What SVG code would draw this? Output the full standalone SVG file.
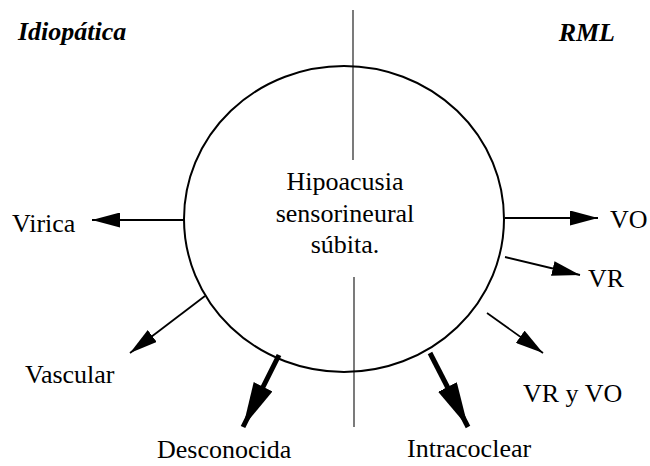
<svg xmlns="http://www.w3.org/2000/svg" width="650" height="466" viewBox="0 0 650 466">
<style>
  text { font-family: "Liberation Serif", "Times New Roman", serif; fill: #000; }
  .lbl { font-size: 26px; }
  .hd { font-size: 26px; font-weight: bold; font-style: italic; }
  .thin { stroke: #000; stroke-width: 1.8; fill: none; }
  .thick { stroke: #000; stroke-width: 5; fill: none; }
  .axis { stroke: #222; stroke-width: 1.2; fill: none; }
</style>
<defs>
  <marker id="ah" markerUnits="userSpaceOnUse" viewBox="0 0 28 15" markerWidth="28" markerHeight="15" refX="28" refY="7.5" orient="auto">
    <path d="M0,0 L28,7.5 L0,15 z" fill="#000"/>
  </marker>
  <marker id="ahb" markerUnits="userSpaceOnUse" viewBox="0 0 45 21" markerWidth="45" markerHeight="21" refX="45" refY="10.5" orient="auto">
    <path d="M0,0 L45,10.5 L0,21 z" fill="#000"/>
  </marker>
</defs>

<g id="headings">
  <text class="hd" x="18" y="40">Idiopática</text>
  <text class="hd" x="615" y="41" text-anchor="end">RML</text>
</g>

<g id="axis">
  <line class="axis" x1="353" y1="10" x2="353" y2="160"/>
  <line class="axis" x1="354" y1="277" x2="354" y2="427"/>
</g>

<g id="center">
  <ellipse cx="344" cy="219" rx="160" ry="153" fill="none" stroke="#000" stroke-width="2"/>
  <text class="lbl" x="345" y="190" text-anchor="middle">Hipoacusia</text>
  <text class="lbl" x="345" y="222" text-anchor="middle">sensorineural</text>
  <text class="lbl" x="345" y="253" text-anchor="middle">súbita.</text>
</g>

<g id="connectors">
  <line class="thin" x1="184" y1="220" x2="92" y2="220" marker-end="url(#ah)"/>
  <line class="thin" x1="205" y1="296" x2="130" y2="353" marker-end="url(#ah)"/>
  <line class="thick" x1="279" y1="355" x2="243" y2="427" marker-end="url(#ahb)"/>
  <line class="thin" x1="505" y1="218" x2="598" y2="218" marker-end="url(#ah)"/>
  <line class="thin" x1="505" y1="257" x2="580" y2="275" marker-end="url(#ah)"/>
  <line class="thin" x1="487" y1="313" x2="543" y2="353" marker-end="url(#ah)"/>
  <line class="thick" x1="430" y1="353" x2="468" y2="427" marker-end="url(#ahb)"/>
</g>

<g id="n-virica"><text class="lbl" x="12" y="232">Virica</text></g>
<g id="n-vascular"><text class="lbl" x="25" y="383">Vascular</text></g>
<g id="n-desconocida"><text class="lbl" x="157" y="458">Desconocida</text></g>
<g id="n-vo"><text class="lbl" x="610" y="228">VO</text></g>
<g id="n-vr"><text class="lbl" x="588" y="287">VR</text></g>
<g id="n-vryvo"><text class="lbl" x="523" y="402">VR y VO</text></g>
<g id="n-intracoclear"><text class="lbl" x="407" y="457">Intracoclear</text></g>
</svg>
